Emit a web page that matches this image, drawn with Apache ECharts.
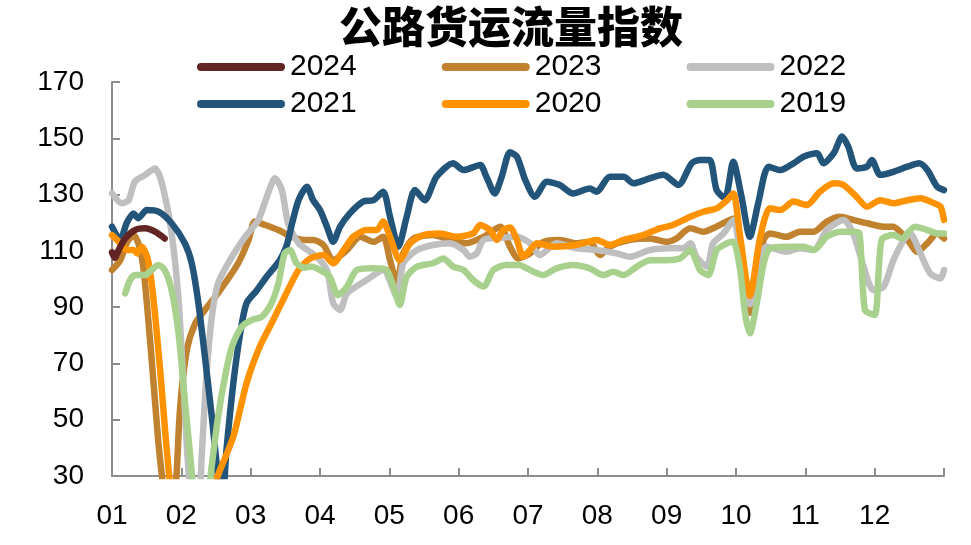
<!DOCTYPE html>
<html>
<head>
<meta charset="utf-8">
<script src="https://cdn.jsdelivr.net/npm/echarts@6/dist/echarts.min.js"></script>
<style>
    html, body { margin: 0; padding: 0; background: #fff; }
    #freightChart { width: 971px; height: 545px; }
</style>
</head>
<body>
<div id="freightChart"></div>
<script>
// x = month position (0 = 01月初, 12 = year end), y = index value
var monthLabels = ['01', '02', '03', '04', '05', '06', '07', '08', '09', '10', '11', '12'];
var legendRow1 = ['2024', '2023', '2022'];
var legendRow2 = ['2021', '2020', '2019'];

var y2024 = [[0, 109.5], [0.04, 107.5], [0.1, 110.5], [0.19, 114.4], [0.33, 117.4], [0.48, 118], [0.62, 116.8], [0.76, 114.4]];

var y2023 = [[0, 103.2], [0.12, 106.7], [0.21, 112.7], [0.31, 115.6], [0.38, 112.7], [0.45, 104.4], [0.52, 86.6], [0.6, 62.9],
    [0.67, 41.6], [0.73, 28], [0.8, 15], [0.9, 20], [0.98, 53.4], [1.08, 74.8], [1.2, 84.2], [1.34, 89], [1.49, 93.7],
    [1.63, 98.5], [1.82, 105.6], [1.97, 113.9], [2.06, 120.4], [2.21, 119.2], [2.4, 117.4], [2.59, 115], [2.78, 113.9],
    [2.9, 113.9], [3.05, 112.1], [3.19, 106.7], [3.39, 110.3], [3.58, 115], [3.77, 113.2], [3.91, 115], [4.01, 106.7],
    [4.11, 98.5], [4.2, 109.1], [4.35, 114.4], [4.63, 115.6], [4.87, 113.9], [5.11, 112.7], [5.36, 115], [5.6, 118.6],
    [5.74, 111.5], [5.86, 107.3], [6.03, 109.1], [6.22, 113.2], [6.46, 113.9], [6.7, 112.7], [6.89, 113.2], [7.04, 108.5],
    [7.18, 111.5], [7.47, 113.9], [7.76, 114.4], [8.0, 113.2], [8.14, 114.4], [8.34, 118], [8.53, 116.8], [8.72, 118.6],
    [8.91, 121], [8.98, 121.5], [9.08, 105], [9.2, 88], [9.3, 100], [9.4, 114], [9.49, 116.2], [9.73, 115], [9.92, 116.8],
    [10.12, 116.8], [10.31, 120.4], [10.5, 122.1], [10.69, 121], [10.89, 119.8], [11.13, 118.6], [11.27, 118.6],
    [11.39, 116.2], [11.51, 112.7], [11.61, 109.7], [11.76, 112.7], [11.9, 116.2], [12, 114.4]];

var y2022 = [[0, 130.4], [0.14, 126.9], [0.24, 128], [0.33, 134.6], [0.48, 137], [0.62, 139.3], [0.72, 134], [0.86, 116.2],
    [0.96, 92.5], [1.03, 63], [1.1, 33], [1.17, 18], [1.24, 18], [1.3, 40], [1.36, 65], [1.44, 86.6], [1.53, 98.5],
    [1.73, 107.9], [1.92, 115], [2.11, 121], [2.25, 130.4], [2.35, 135.8], [2.45, 131.6], [2.54, 119.8], [2.69, 112.7],
    [2.78, 111], [2.95, 107.9], [3.1, 103.2], [3.19, 91.4], [3.29, 89], [3.39, 94.9], [3.67, 99.6], [3.91, 103.2],
    [4.11, 93.7], [4.2, 105.6], [4.4, 110.3], [4.63, 112.1], [4.87, 112.7], [5.07, 110.3], [5.16, 107.9], [5.26, 109.1],
    [5.36, 113.9], [5.6, 114.6], [5.84, 115], [6.03, 112.7], [6.17, 108.5], [6.41, 112.7], [6.7, 110.9], [6.99, 110.3],
    [7.28, 109.1], [7.47, 107.9], [7.76, 110.3], [8.05, 110.9], [8.24, 110.9], [8.34, 112.7], [8.43, 107.9], [8.58, 104.4],
    [8.67, 112.7], [8.82, 116.2], [8.96, 121], [9.11, 99.6], [9.2, 91], [9.3, 103.2], [9.44, 111.5], [9.73, 109.7],
    [9.92, 110.9], [10.12, 110.3], [10.31, 117.4], [10.55, 121], [10.69, 116.2], [10.84, 104.4], [10.98, 96.1],
    [11.13, 97.3], [11.27, 106.7], [11.42, 113.9], [11.51, 116.2], [11.66, 109.1], [11.8, 102], [11.95, 100.2], [12, 103.2]];

var y2021 = [[0, 118.6], [0.12, 113.9], [0.21, 119.8], [0.31, 123.3], [0.38, 121.6], [0.5, 124.5], [0.67, 123.9], [0.86, 119.8],
    [1.05, 112.7], [1.15, 105.6], [1.24, 92.5], [1.34, 72.4], [1.44, 51], [1.53, 29.7], [1.59, 20], [1.65, 39], [1.75, 63],
    [1.85, 80.8], [1.94, 91.4], [2.09, 96], [2.23, 100.8], [2.42, 106.7], [2.52, 112], [2.6, 120], [2.69, 128], [2.81, 132.8],
    [2.9, 128], [3.0, 124.5], [3.1, 118.6], [3.19, 113.2], [3.29, 118.6], [3.43, 123.3], [3.62, 127.5], [3.77, 128],
    [3.91, 131], [4.01, 122.1], [4.13, 111.5], [4.25, 122.1], [4.37, 131.6], [4.51, 128], [4.68, 136.3], [4.92, 141.1],
    [5.07, 138.7], [5.31, 140.5], [5.4, 136.3], [5.52, 130.4], [5.62, 136.3], [5.74, 145], [5.84, 143.5], [5.96, 135.2],
    [6.1, 129.2], [6.27, 134.6], [6.46, 133.4], [6.65, 130.4], [6.89, 132.2], [6.99, 131], [7.18, 136.3], [7.38, 136.3],
    [7.52, 134], [7.76, 135.8], [7.95, 137], [8.17, 133.4], [8.36, 141.1], [8.48, 142.3], [8.62, 142.3], [8.72, 131.6],
    [8.84, 128.7], [8.96, 141.7], [9.08, 129.2], [9.2, 115], [9.32, 126.9], [9.47, 139.9], [9.64, 138.7], [9.83, 141.1],
    [9.98, 143.5], [10.17, 144.7], [10.26, 141.1], [10.41, 144.7], [10.53, 150.6], [10.62, 147], [10.74, 139.3],
    [10.89, 139.9], [10.96, 142.3], [11.08, 137], [11.27, 138.1], [11.47, 139.9], [11.64, 141.1], [11.76, 138.7],
    [11.9, 132.8], [12, 131.6]];

var y2020 = [[0, 115.6], [0.12, 112.7], [0.21, 110.3], [0.31, 110.3], [0.36, 109.1], [0.43, 111.5], [0.52, 106.7], [0.6, 92.5],
    [0.7, 66], [0.77, 45], [0.83, 29], [0.92, 12], [1.3, 12], [1.51, 29], [1.75, 44], [1.94, 62.9], [2.13, 75.9], [2.3, 84.2],
    [2.49, 93.7], [2.69, 103.2], [2.86, 107.3], [3.05, 108.5], [3.19, 105.6], [3.34, 110.3], [3.48, 115], [3.67, 117.4],
    [3.82, 117.4], [3.91, 120.4], [4.01, 115], [4.15, 106.7], [4.3, 112.7], [4.49, 115.6], [4.73, 116.2], [4.97, 115],
    [5.21, 116.2], [5.31, 119.2], [5.45, 117.4], [5.55, 113.9], [5.64, 117.4], [5.74, 118.3], [5.84, 113.9], [5.93, 107.9],
    [6.03, 110.3], [6.13, 112.7], [6.36, 111.5], [6.7, 112.1], [6.99, 113.9], [7.18, 112.1], [7.38, 113.9], [7.66, 115.6],
    [7.9, 118], [8.09, 119.2], [8.34, 122.1], [8.53, 123.9], [8.72, 125.1], [8.87, 128], [8.96, 130.4], [9.06, 115],
    [9.2, 94], [9.35, 115], [9.49, 125.1], [9.64, 124.5], [9.83, 127.5], [10.02, 126.3], [10.21, 131], [10.41, 134],
    [10.55, 133.4], [10.74, 129.2], [10.89, 125.7], [11.08, 128], [11.27, 126.9], [11.47, 128], [11.66, 128.7],
    [11.86, 126.9], [11.95, 125.7], [12, 121]];

var y2019 = [[0.19, 94.9], [0.26, 99.6], [0.33, 101.4], [0.48, 101.4], [0.57, 103.2], [0.67, 105], [0.76, 103.2], [0.86, 96.1],
    [0.96, 80.7], [1.05, 57], [1.12, 39.2], [1.18, 25], [1.28, 15], [1.38, 22], [1.44, 34], [1.53, 51], [1.63, 65.3],
    [1.73, 75.9], [1.87, 83], [2.01, 85.4], [2.16, 86.6], [2.3, 91.4], [2.4, 98.5], [2.49, 109.1], [2.57, 110.3],
    [2.66, 105.6], [2.78, 104], [2.86, 104.4], [3.0, 103.2], [3.14, 100.8], [3.26, 94.3], [3.39, 97.3], [3.53, 103.2],
    [3.77, 103.8], [3.96, 103.2], [4.06, 97.3], [4.15, 90.8], [4.25, 100.8], [4.4, 104.4], [4.63, 105.6], [4.78, 107.3],
    [4.92, 104.4], [5.07, 103.2], [5.21, 99.6], [5.36, 97.3], [5.5, 103.2], [5.69, 105], [5.88, 105], [5.98, 103.8],
    [6.22, 101.4], [6.41, 103.8], [6.65, 105], [6.89, 103.8], [7.08, 101.4], [7.23, 102.6], [7.38, 101.4], [7.57, 104.4],
    [7.76, 106.7], [8.0, 106.7], [8.19, 107.3], [8.34, 110.3], [8.48, 103.2], [8.6, 101.4], [8.72, 110.3], [8.87, 112.7],
    [8.96, 113.2], [9.06, 103.2], [9.13, 87.8], [9.2, 80.7], [9.3, 91.4], [9.4, 105.6], [9.49, 110.9], [9.73, 111.5],
    [9.98, 111.5], [10.12, 110.3], [10.31, 115], [10.5, 116.8], [10.69, 116.8], [10.78, 116.2], [10.86, 89], [11.0, 87.2],
    [11.1, 113.9], [11.27, 115.6], [11.39, 114.4], [11.58, 118.6], [11.76, 117.4], [11.9, 116.2], [12, 116.2]];

var colors = {
    '2024': '#632523',
    '2023': '#C0822F',
    '2022': '#BFBFBF',
    '2021': '#23557B',
    '2020': '#FF9200',
    '2019': '#A9D18E'
};

var latin = '"Liberation Sans", Arial, sans-serif';
var pill = 'path://M4,0 L84,0 A4,4 0 0 1 84,8 L4,8 A4,4 0 0 1 4,0 Z';

function makeSeries(name, data) {
    return {
        name: name,
        type: 'line',
        data: data,
        smooth: 0.25,
        showSymbol: false,
        symbol: 'none',
        clip: true,
        lineStyle: { width: 6.5, color: colors[name], cap: 'round', join: 'round' },
        itemStyle: { color: colors[name] }
    };
}

function makeLegend(names, top) {
    return {
        data: names,
        left: 197,
        top: top,
        padding: 0,
        itemWidth: 88,
        itemHeight: 8,
        itemGap: 85,
        icon: pill,
        textStyle: { fontFamily: latin, fontSize: 30, color: '#000' }
    };
}

var chart = echarts.init(document.getElementById('freightChart'));
chart.setOption({
    backgroundColor: '#fff',
    animation: false,
    title: {
        text: '公路货运流量指数',
        left: 334,
        top: 0,
        textStyle: { fontFamily: '"Noto Sans CJK SC", sans-serif', fontSize: 43, fontWeight: 900, color: '#000' }
    },
    legend: [makeLegend(legendRow1, 52), makeLegend(legendRow2, 89)],
    grid: { left: 112, right: 27, top: 82, bottom: 69 },
    xAxis: {
        type: 'value',
        min: 0,
        max: 12,
        interval: 1,
        splitLine: { show: false },
        axisLine: { lineStyle: { color: '#8C8C8C', width: 2 } },
        axisTick: { inside: true, length: 8, lineStyle: { color: '#8C8C8C', width: 2 } },
        axisLabel: {
            margin: 26,
            fontFamily: latin,
            fontSize: 28,
            color: '#000',
            formatter: function (v) { return v < 12 ? monthLabels[v] : ''; }
        }
    },
    yAxis: {
        type: 'value',
        min: 30,
        max: 170,
        interval: 20,
        splitLine: { show: false },
        axisLine: { show: true, lineStyle: { color: '#8C8C8C', width: 2 } },
        axisTick: { show: true, inside: true, length: 8, lineStyle: { color: '#8C8C8C', width: 2 } },
        axisLabel: { margin: 28, fontFamily: latin, fontSize: 28, color: '#000' }
    },
    series: [
        makeSeries('2023', y2023),
        makeSeries('2022', y2022),
        makeSeries('2021', y2021),
        makeSeries('2020', y2020),
        makeSeries('2019', y2019),
        makeSeries('2024', y2024)
    ]
});
</script>
</body>
</html>
